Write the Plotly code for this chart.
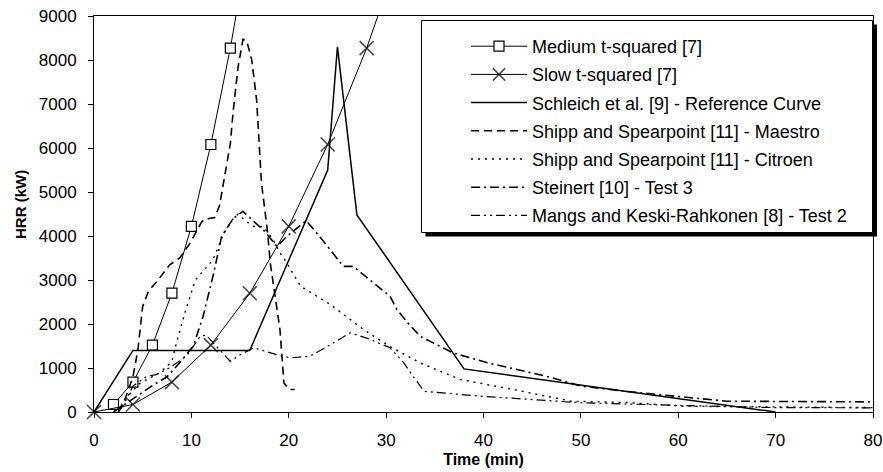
import plotly.graph_objects as go

# ---------------- data ----------------
medium_t = [2, 4, 6, 8, 10, 12, 14, 16]
medium_hrr = [170, 680, 1520, 2700, 4220, 6080, 8270, 10800]

slow_t = [0, 4, 8, 12, 16, 20, 24, 28, 32]
slow_hrr = [0, 170, 680, 1520, 2700, 4220, 6080, 8270, 10800]

schleich_t = [0, 4, 16, 24, 25, 27, 38, 70]
schleich_hrr = [0, 1400, 1400, 5500, 8300, 4480, 980, 0]

maestro_t = [2.5, 3.2, 4.0, 4.5, 4.8, 5.0, 5.6, 6.4, 7.8, 8.8, 9.9, 11.0, 11.3, 12.4, 12.9,
             14.0, 14.3, 14.8, 15.3, 15.7, 16.2, 16.7, 17.2, 17.8, 18.1, 19.1, 19.5, 20.1, 20.6]
maestro_hrr = [0, 300, 800, 1400, 2000, 2400, 2750, 2950, 3350, 3500, 3850, 4300, 4380, 4420, 4700,
               6100, 6850, 7850, 8470, 8420, 8000, 7090, 5200, 4140, 3390, 1870, 660, 510, 510]

citroen_t = [2.5, 3.0, 4.7, 6.8, 8.0, 8.5, 9.4, 10.4, 11.2, 12.2, 13.3, 14.3, 14.8, 15.5, 16.4,
             17.4, 18.3, 19.1, 19.8, 21.2, 24.3, 27.7, 30.4, 33.5, 37.6, 43.1, 49.0, 54.8, 60.6, 80]
citroen_hrr = [0, 250, 650, 900, 1150, 1600, 2300, 3000, 3200, 3450, 4050, 4400, 4500, 4350, 4220,
               4210, 3950, 3620, 3390, 2860, 2440, 1870, 1490, 1115, 740, 510, 245, 215, 130, 100]

steinert_t = [2, 3, 4, 6, 7.5, 8.8, 10.2, 11.2, 12.3, 13.1, 14.3, 15.3, 16.4, 17.4, 18.8, 19.8,
              21.8, 23.5, 25.6, 26.6, 30.4, 31.1, 32.2, 33.5, 36.9, 40.4, 46.5, 50, 55, 61, 65, 80]
steinert_hrr = [0, 150, 300, 600, 800, 1120, 1500, 2170, 3160, 3990, 4400, 4560, 4330, 4140, 3760, 3990,
                4350, 3900, 3310, 3310, 2630, 2330, 2030, 1720, 1340, 1120, 810, 590, 460, 330, 245, 230]

mangs_t = [2.5, 3, 4, 5.4, 6.4, 7.8, 9.5, 10.9, 11.5, 12.5, 14.0, 15.0, 16.4, 18.8, 20.2, 22.2,
           24.3, 26.3, 28.0, 30.4, 31.8, 33.0, 33.9, 39.7, 50, 60, 70, 80]
mangs_hrr = [0, 150, 590, 810, 850, 1010, 1270, 1720, 1750, 1500, 1150, 1300, 1460, 1300, 1230, 1270,
             1530, 1800, 1680, 1460, 1120, 740, 470, 360, 210, 150, 100, 95]

names = ["Medium t-squared [7]", "Slow t-squared [7]", "Schleich et al. [9] - Reference Curve",
         "Shipp and Spearpoint [11] - Maestro", "Shipp and Spearpoint [11] - Citroen",
         "Steinert [10] - Test 3", "Mangs and Keski-Rahkonen [8] - Test 2"]

x_ticks = [0, 10, 20, 30, 40, 50, 60, 70, 80]
y_ticks = [0, 1000, 2000, 3000, 4000, 5000, 6000, 7000, 8000, 9000]

# ---------------- layout geometry ----------------
W, H = 883, 472
ML, MR, MT, MB = 94, 10, 16, 60
PW, PH = W - ML - MR, H - MT - MB


def px_x(p):
    return (p - ML) / PW


def px_y(p):
    return (H - MB - p) / PH


FONT = "Arial, Liberation Sans, sans-serif"
BLACK = "#000000"

fig = go.Figure()

fig.add_trace(go.Scatter(
    x=medium_t, y=medium_hrr, name=names[0], mode="lines+markers", legendgroup="g0",
    line=dict(color=BLACK, width=1),
    marker=dict(symbol="square", size=10, color="white", line=dict(color=BLACK, width=1.2)),
))
fig.add_trace(go.Scatter(
    x=slow_t, y=slow_hrr, name=names[1], mode="lines+markers", legendgroup="g1",
    line=dict(color=BLACK, width=1), cliponaxis=False,
    marker=dict(symbol="x-thin", size=[14 if v <= 9000 else 0 for v in slow_hrr],
                color=BLACK, line=dict(color=BLACK, width=1.6)),
))
fig.add_trace(go.Scatter(
    x=schleich_t, y=schleich_hrr, name=names[2], mode="lines", legendgroup="g2",
    line=dict(color=BLACK, width=1.5),
))
fig.add_trace(go.Scatter(
    x=maestro_t, y=maestro_hrr, name=names[3], mode="lines", legendgroup="g3",
    line=dict(color=BLACK, width=1.6, dash="8px,5px"),
))
fig.add_trace(go.Scatter(
    x=citroen_t, y=citroen_hrr, name=names[4], mode="lines", legendgroup="g4",
    line=dict(color=BLACK, width=1.4, dash="2px,5px"),
))
fig.add_trace(go.Scatter(
    x=steinert_t, y=steinert_hrr, name=names[5], mode="lines", legendgroup="g5",
    line=dict(color=BLACK, width=1.6, dash="9px,4px,2px,4px"),
))
fig.add_trace(go.Scatter(
    x=mangs_t, y=mangs_hrr, name=names[6], mode="lines", legendgroup="g6",
    line=dict(color=BLACK, width=1.2, dash="9px,4px,2px,4px,2px,4px"),
))

# legend frame with shadow
fig.add_shape(type="rect", xref="paper", yref="paper", layer="above",
              x0=px_x(425.5), x1=px_x(877), y0=px_y(236.5), y1=px_y(24.5),
              fillcolor=BLACK, line=dict(width=0))
fig.add_shape(type="rect", xref="paper", yref="paper", layer="above",
              x0=px_x(421.5), x1=px_x(872.5), y0=px_y(232.5), y1=px_y(20.5),
              fillcolor="white", line=dict(color=BLACK, width=1))

fig.add_annotation(text="<b>HRR (kW)</b>", xref="paper", yref="paper",
                   x=px_x(20), y=px_y(205), xanchor="center", yanchor="middle",
                   textangle=-90, showarrow=False,
                   font=dict(family=FONT, size=15, color=BLACK))

fig.update_layout(
    width=W, height=H,
    margin=dict(l=ML, r=MR, t=MT, b=MB, autoexpand=False),
    paper_bgcolor="white", plot_bgcolor="white",
    font=dict(family=FONT, size=17, color=BLACK),
    showlegend=True,
    legend=dict(x=px_x(466), y=px_y(28), xanchor="left", yanchor="top",
                bgcolor="rgba(0,0,0,0)", borderwidth=0, itemwidth=56,
                tracegroupgap=1.8, font=dict(family=FONT, size=18, color=BLACK)),
    xaxis=dict(range=[0, 80], tickvals=x_ticks, showgrid=False, zeroline=False,
               showline=True, linecolor=BLACK, linewidth=1, mirror=True,
               ticks="outside", ticklen=5, tickcolor=BLACK, ticklabelstandoff=8,
               title=dict(text="<b>Time (min)</b>", font=dict(size=16), standoff=4)),
    yaxis=dict(range=[0, 9000], tickvals=y_ticks, showgrid=False, zeroline=False,
               showline=True, linecolor=BLACK, linewidth=1, mirror=True,
               ticks="outside", ticklen=5, tickcolor=BLACK, ticklabelstandoff=8),
)

fig.write_html("out.html")
